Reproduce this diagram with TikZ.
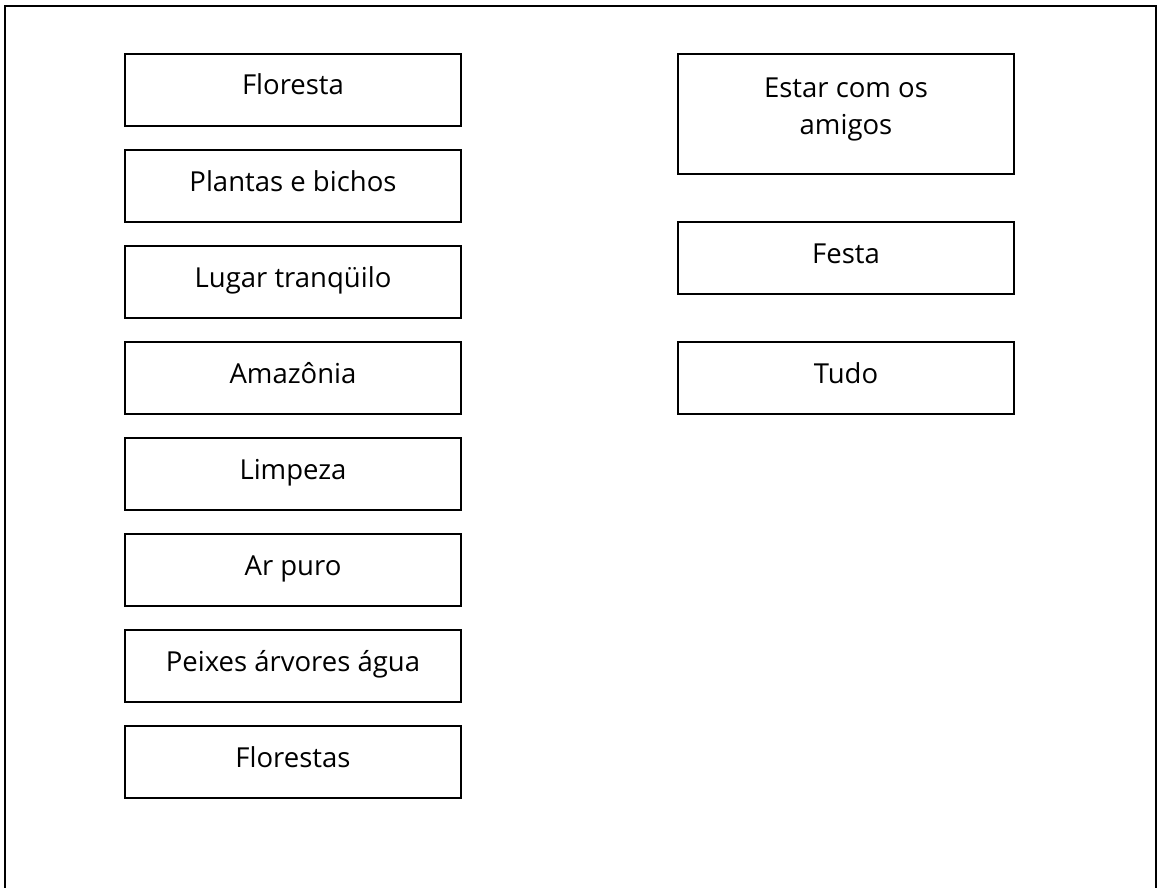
\documentclass[tikz,border=0pt]{standalone}
\usepackage{fontspec}
\setmainfont{Open Sans}
\begin{document}
\begin{tikzpicture}[x=1pt,y=-1pt,
  cardfont/.style={font=\fontsize{27.5}{37}\selectfont, align=center},
  card/.style={draw=black, line width=1.8pt, minimum width=336pt,
    inner sep=0pt, cardfont, text height=20pt, text depth=10pt},
  cardtext/.style={inner sep=0pt, cardfont},
  frame/.style={draw=black, line width=1.8pt}]
  \useasboundingbox (0,0) rectangle (1157,888);
  \clip (0,0) rectangle (1157,888);
  \fill[white] (0,0) rectangle (1157,888);
  % outer page frame (bottom edge runs off the page)
  \draw[frame] (5,6) rectangle (1156,900);

  % left column
  \node[card, minimum height=72pt] (c1) at (293,90)  {Floresta};
  \node[card, minimum height=72pt] (c2) at (293,186) {Plantas e bichos};
  \node[card, minimum height=72pt] (c3) at (293,282) {Lugar tranqüilo};
  \node[card, minimum height=72pt] (c4) at (293,378) {Amazônia};
  \node[card, minimum height=72pt] (c5) at (293,474) {Limpeza};
  \node[card, minimum height=72pt] (c6) at (293,570) {Ar puro};
  \node[card, minimum height=72pt] (c7) at (293,666) {Peixes árvores água};
  \node[card, minimum height=72pt] (c8) at (293,762) {Florestas};

  % right column
  \node[card, minimum height=120pt] (r1) at (846,114) {};
  \node[cardtext] (r1t) at (846,109) {Estar com os\\amigos};
  \node[card, minimum height=72pt] (r2) at (846,258) {Festa};
  \node[card, minimum height=72pt] (r3) at (846,378) {Tudo};
\end{tikzpicture}
\end{document}
